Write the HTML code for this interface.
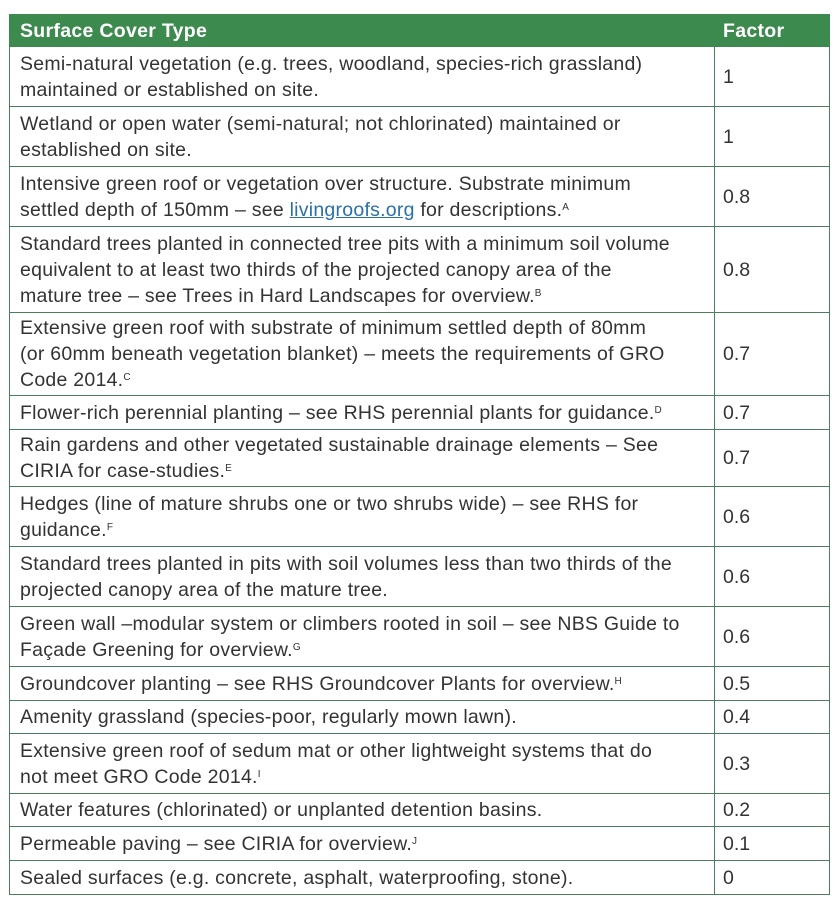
<!DOCTYPE html>
<html><head><meta charset="utf-8"><style>
body{margin:0;background:#fff;width:836px;height:908px;font-family:"Liberation Sans",sans-serif;}
table{position:absolute;left:9px;top:14px;width:820px;border-collapse:collapse;table-layout:fixed;}
td,th{border:1.5px solid #4c7d5c;padding:0 0 0 10px;font-size:19.5px;line-height:26px;color:#333;text-align:left;vertical-align:middle;white-space:nowrap;}
td+td,th+th{padding-left:8px}
th{background:#3d8a4e;color:#fff;font-weight:bold;font-size:19.5px;letter-spacing:0.3px;height:31px;border-color:#3d8a4e;}
td:first-child{letter-spacing:0.25px}
sup{font-size:10px;line-height:0;vertical-align:6px}
a{color:#2a6fa8;text-decoration:underline}
</style></head><body>
<table>
<col style="width:705px"><col style="width:115px">
<tr><th>Surface Cover Type</th><th>Factor</th></tr>
<tr style="height:60px"><td>Semi-natural vegetation (e.g. trees, woodland, species-rich grassland)<br>maintained or established on site.</td><td>1</td></tr>
<tr style="height:60px"><td>Wetland or open water (semi-natural; not chlorinated) maintained or<br>established on site.</td><td>1</td></tr>
<tr style="height:60px"><td>Intensive green roof or vegetation over structure. Substrate minimum<br>settled depth of 150mm – see <a>livingroofs.org</a> for descriptions.<sup>A</sup></td><td>0.8</td></tr>
<tr style="height:86px"><td>Standard trees planted in connected tree pits with a minimum soil volume<br>equivalent to at least two thirds of the projected canopy area of the<br>mature tree – see Trees in Hard Landscapes for overview.<sup>B</sup></td><td>0.8</td></tr>
<tr style="height:83px"><td>Extensive green roof with substrate of minimum settled depth of 80mm<br>(or 60mm beneath vegetation blanket) – meets the requirements of GRO<br>Code 2014.<sup>C</sup></td><td>0.7</td></tr>
<tr style="height:34px"><td>Flower-rich perennial planting – see RHS perennial plants for guidance.<sup>D</sup></td><td>0.7</td></tr>
<tr style="height:57px"><td>Rain gardens and other vegetated sustainable drainage elements – See<br>CIRIA for case-studies.<sup>E</sup></td><td>0.7</td></tr>
<tr style="height:60px"><td>Hedges (line of mature shrubs one or two shrubs wide) – see RHS for<br>guidance.<sup>F</sup></td><td>0.6</td></tr>
<tr style="height:60px"><td>Standard trees planted in pits with soil volumes less than two thirds of the<br>projected canopy area of the mature tree.</td><td>0.6</td></tr>
<tr style="height:60px"><td>Green wall –modular system or climbers rooted in soil – see NBS Guide to<br>Façade Greening for overview.<sup>G</sup></td><td>0.6</td></tr>
<tr style="height:34px"><td>Groundcover planting – see RHS Groundcover Plants for overview.<sup>H</sup></td><td>0.5</td></tr>
<tr style="height:33px"><td>Amenity grassland (species-poor, regularly mown lawn).</td><td>0.4</td></tr>
<tr style="height:60px"><td>Extensive green roof of sedum mat or other lightweight systems that do<br>not meet GRO Code 2014.<sup>I</sup></td><td>0.3</td></tr>
<tr style="height:33px"><td>Water features (chlorinated) or unplanted detention basins.</td><td>0.2</td></tr>
<tr style="height:34px"><td>Permeable paving – see CIRIA for overview.<sup>J</sup></td><td>0.1</td></tr>
<tr style="height:34px"><td>Sealed surfaces (e.g. concrete, asphalt, waterproofing, stone).</td><td>0</td></tr>
</table>
</body></html>
